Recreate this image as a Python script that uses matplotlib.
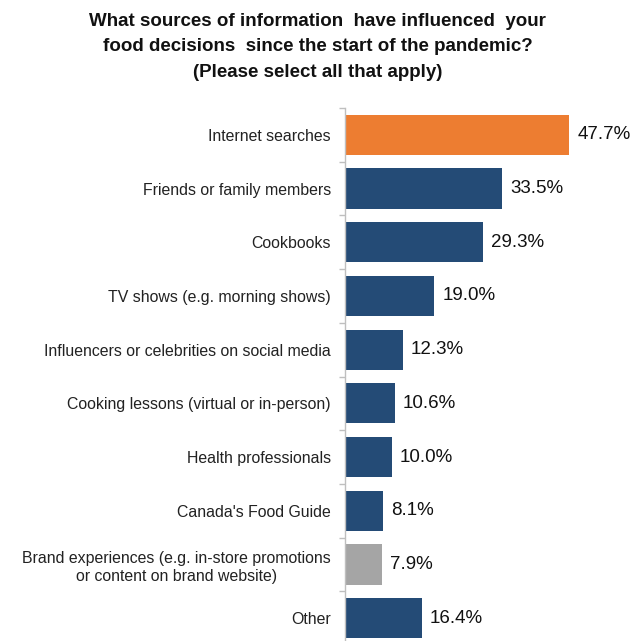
import matplotlib
matplotlib.use("Agg")
import matplotlib.pyplot as plt

categories = [
    "Internet searches",
    "Friends or family members",
    "Cookbooks",
    "TV shows (e.g. morning shows)",
    "Influencers or celebrities on social media",
    "Cooking lessons (virtual or in-person)",
    "Health professionals",
    "Canada's Food Guide",
    "Brand experiences (e.g. in-store promotions\nor content on brand website)",
    "Other",
]
values = [47.7, 33.5, 29.3, 19.0, 12.3, 10.6, 10.0, 8.1, 7.9, 16.4]
colors = ["#ED7D31"] + ["#244B76"] * 7 + ["#A5A5A5", "#244B76"]
title = ("What sources of information  have influenced  your\n"
         "food decisions  since the start of the pandemic?\n"
         "(Please select all that apply)")

plt.rcParams['font.family'] = ['Liberation Sans', 'DejaVu Sans']
W, H = 635, 641
fig = plt.figure(figsize=(W / 100, H / 100), dpi=100)
ax_left = 345 / W
ax_top = 108
ax_h = 537
ax = fig.add_axes([ax_left, (H - ax_top - ax_h) / H, (W - 345) / W, ax_h / H])

pos = list(range(len(categories)))
ax.barh(pos, values, height=0.75, color=colors)
ax.set_ylim(len(categories) - 0.5, -0.5)
ax.set_xlim(0, (W - 345) / 4.7)

for p, v in zip(pos, values):
    ax.text(v + 1.7, p, f"{v:.1f}%", va='center', ha='left', fontsize=13.5, color='#111111')

ax.set_yticks(pos)
ax.set_yticklabels(categories, fontsize=11.4, color='#222222', ha='right',
                   multialignment='center', linespacing=1.25)
ax.tick_params(axis='y', which='major', length=0, pad=10)
ax.set_yticks([p - 0.5 for p in pos] + [len(pos) - 0.5], minor=True)
ax.tick_params(axis='y', which='minor', length=4, color='#BFBFBF', width=1)
ax.set_xticks([])
for s in ['top', 'right', 'bottom']:
    ax.spines[s].set_visible(False)
ax.spines['left'].set_color('#BFBFBF')
ax.spines['left'].set_linewidth(1)

fig.text(0.5, 1 - 13 / H, title, ha='center', va='top', fontsize=13.5,
         fontweight='bold', linespacing=1.65, color='#111111')

fig.savefig("out.png", dpi=100)
